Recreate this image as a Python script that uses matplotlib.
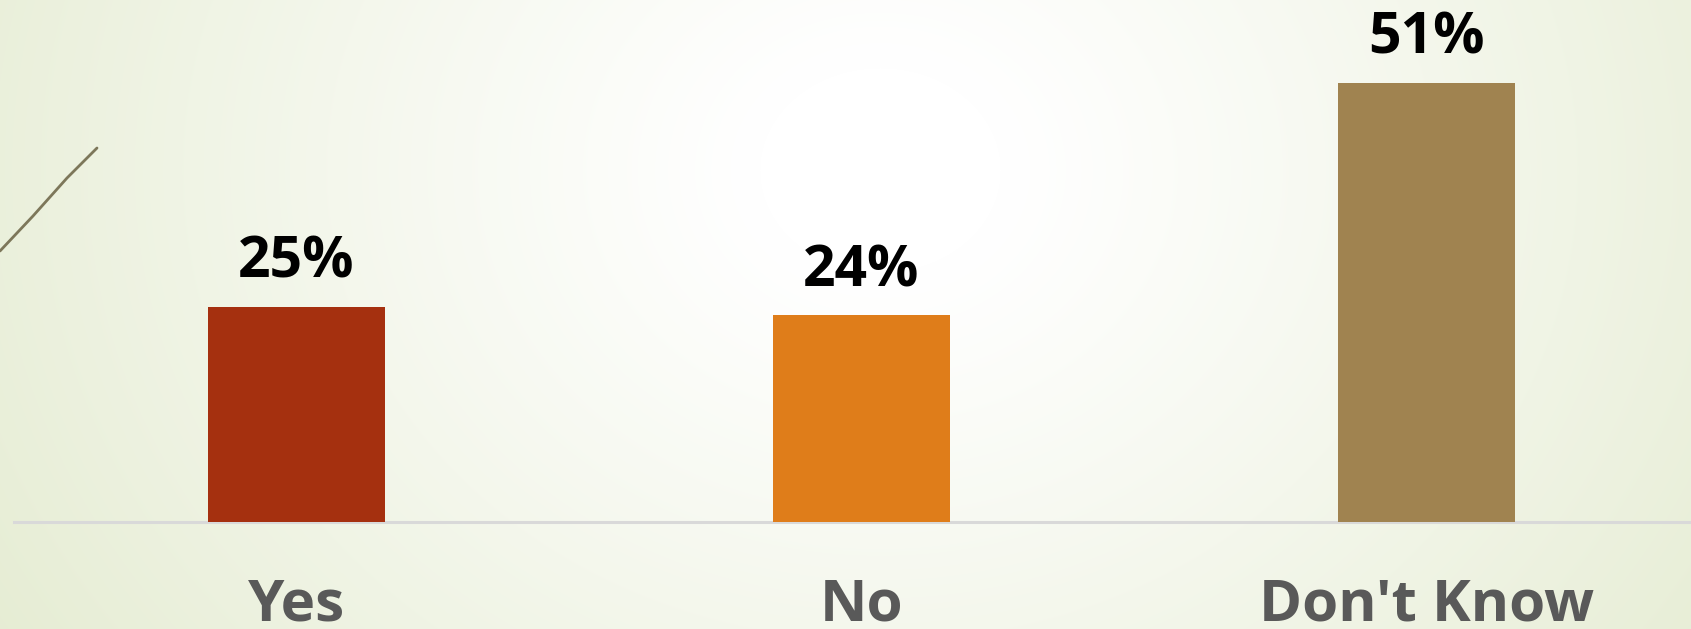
import numpy as np
import matplotlib
matplotlib.use("Agg")
import matplotlib.pyplot as plt

categories = ["Yes", "No", "Don't Know"]
values = [25, 24, 51]
labels = ["25%", "24%", "51%"]
colors = ["#A5300F", "#DF7D1A", "#A08350"]

W, H, DPI = 1691, 629, 100
fig = plt.figure(figsize=(W / DPI, H / DPI), dpi=DPI)

# background radial gradient
bg = fig.add_axes([0, 0, 1, 1], zorder=-10)
yy, xx = np.mgrid[0:H, 0:W]
d = np.sqrt(((xx - 880) / 1.0) ** 2 + ((yy - 170) / 0.85) ** 2)
t = np.clip((d - 120) / 950, 0, 1) ** 1.1
white = np.array([255, 255, 255]) / 255
green = np.array([229, 236, 210]) / 255
img = white[None, None, :] * (1 - t[..., None]) + green[None, None, :] * t[..., None]
bg.imshow(img, aspect="auto", extent=[0, W, H, 0])
bg.set_xlim(0, W)
bg.set_ylim(H, 0)
bg.axis("off")

# decorative line at left
bg.plot([0, 33, 67, 97], [251, 216, 178, 148], color="#7d775a", lw=2.0,
        solid_capstyle="round")

ax = fig.add_axes([14 / W, 107 / H, 1 - 14 / W, 517 / H])
ax.patch.set_alpha(0)
x = np.arange(len(categories))
bars = ax.bar(x, values, width=0.313, color=colors, zorder=3)
ax.set_xlim(-0.5, -0.5 + (W - 14) / 565)
ax.set_ylim(0, 60)
for s in ["top", "right", "left"]:
    ax.spines[s].set_visible(False)
ax.spines["bottom"].set_color("#d9d9d9")
ax.spines["bottom"].set_linewidth(2.2)
ax.set_yticks([])
ax.set_xticks(x)
ax.set_xticklabels(categories, fontsize=42, color="#595959",
                   family=["Open Sans", "DejaVu Sans"], fontweight="bold")
ax.tick_params(axis="x", length=0, pad=71)
for lbl in ax.get_xticklabels():
    lbl.set_va("baseline")

for b, lab in zip(bars, labels):
    ax.annotate(lab, (b.get_x() + b.get_width() / 2, b.get_height()),
                xytext=(0, 21), textcoords="offset points",
                ha="center", va="baseline", fontsize=41, fontweight="bold",
                color="black", family=["Open Sans", "DejaVu Sans"])

fig.savefig("out.png", dpi=DPI)
